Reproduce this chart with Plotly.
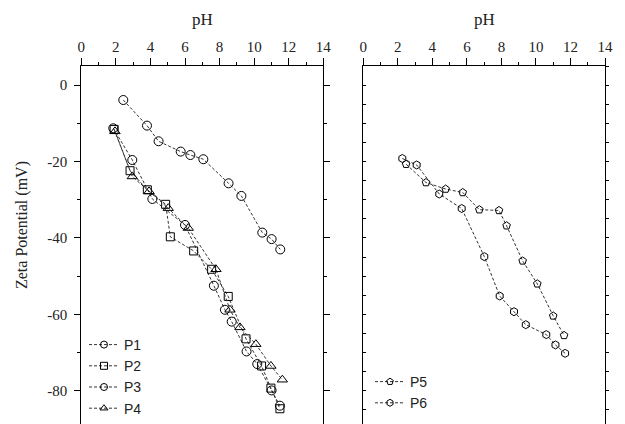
import plotly.graph_objects as go

# ---------------- data ----------------
p1_ph = [1.85, 2.95, 4.11, 6.00, 7.67, 8.31, 8.70, 9.56, 10.18, 11.01, 11.49]
p1_zp = [-11.3, -19.6, -29.8, -36.6, -52.5, -58.8, -61.9, -69.7, -73.0, -79.9, -83.9]

p2_ph = [1.90, 2.82, 3.82, 4.88, 5.15, 6.50, 7.54, 8.50, 9.53, 10.43, 10.97, 11.49]
p2_zp = [-11.6, -22.4, -27.4, -31.2, -39.7, -43.4, -48.2, -55.3, -66.4, -73.5, -79.3, -84.7]

p3_ph = [2.43, 3.80, 4.47, 5.75, 6.31, 7.06, 8.52, 9.26, 10.47, 11.01, 11.51]
p3_zp = [-3.9, -10.6, -14.7, -17.4, -18.3, -19.4, -25.7, -29.0, -38.6, -40.3, -43.0]

p4_ph = [1.95, 2.95, 3.92, 5.03, 6.19, 7.79, 8.60, 9.18, 10.10, 10.97, 11.63]
p4_zp = [-12.1, -23.9, -27.8, -32.2, -37.4, -48.2, -58.8, -63.4, -67.8, -73.5, -77.1]

p5_ph = [2.48, 3.63, 4.77, 5.76, 6.72, 7.86, 8.30, 9.23, 10.08, 11.00, 11.63]
p5_zp = [-20.7, -25.5, -27.2, -28.1, -32.6, -32.8, -36.8, -46.0, -52.0, -60.4, -65.5]

p6_ph = [2.26, 3.09, 4.40, 5.70, 7.01, 7.90, 8.73, 9.41, 10.60, 11.13, 11.69]
p6_zp = [-19.2, -20.9, -28.5, -32.3, -44.9, -55.2, -59.3, -62.7, -65.3, -68.0, -70.2]

x_tick_vals = [0, 2, 4, 6, 8, 10, 12, 14]
y_tick_vals = [0, -20, -40, -60, -80]
y_tick_text = ["0", "-20", "-40", "-60", "-80"]

left_series = [("P1", p1_ph, p1_zp, "circle-open"),
               ("P2", p2_ph, p2_zp, "square-open"),
               ("P3", p3_ph, p3_zp, "circle-open"),
               ("P4", p4_ph, p4_zp, "triangle-up-open")]
right_series = [("P5", p5_ph, p5_zp, "pentagon-open"),
                ("P6", p6_ph, p6_zp, "hexagon-open")]

# ---------------- figure ----------------
W, H = 625, 424
T, B = 66, 0
PH = H - T - B
LINE = "#333333"
SERIF = "'Times New Roman', 'Liberation Serif', 'DejaVu Serif', serif"
SANS = "Arial, 'Liberation Sans', sans-serif"

fig = go.Figure()

msize_left = {"circle-open": 9, "square-open": 8, "triangle-up-open": 9}
for name, xs, ys, sym in left_series:
    fig.add_trace(go.Scatter(
        x=xs, y=ys, mode="lines+markers", xaxis="x", yaxis="y", showlegend=False,
        line=dict(color=LINE, width=1, dash="3px,2px"),
        marker=dict(symbol=sym, size=msize_left[sym], color="black", line=dict(width=1, color="black")),
    ))
    fig.add_trace(go.Scatter(
        x=[None], y=[None], mode="lines+markers", xaxis="x", yaxis="y", name=name, legend="legend",
        line=dict(color=LINE, width=1, dash="3px,2px"),
        marker=dict(symbol=sym, size=7, color="black", line=dict(width=1, color="black")),
    ))

for name, xs, ys, sym in right_series:
    fig.add_trace(go.Scatter(
        x=xs, y=ys, mode="lines+markers", xaxis="x2", yaxis="y2", showlegend=False,
        line=dict(color=LINE, width=1, dash="3px,2px"),
        marker=dict(symbol=sym, size=8, color="black", line=dict(width=1, color="black")),
    ))
    fig.add_trace(go.Scatter(
        x=[None], y=[None], mode="lines+markers", xaxis="x2", yaxis="y2", name=name, legend="legend2",
        line=dict(color=LINE, width=1, dash="3px,2px"),
        marker=dict(symbol=sym, size=7, color="black", line=dict(width=1, color="black")),
    ))

YR = [-88.69, 5.0]
dom1 = [81.3 / W, 323.3 / W]
dom2 = [363.3 / W, 605.0 / W]

xcommon = dict(range=[0, 14], side="top", showline=True, linecolor="black", linewidth=1,
               ticks="outside", ticklen=7, tickcolor="black", tickwidth=1,
               tickmode="array", tickvals=x_tick_vals,
               tickfont=dict(family=SERIF, size=15, color="#222"),
               minor=dict(tickmode="linear", tick0=0, dtick=1, ticklen=3, ticks="outside",
                          tickcolor="black", showgrid=False),
               showgrid=False, zeroline=False, mirror=False, fixedrange=True, automargin=False)

fig.update_layout(
    width=W, height=H,
    margin=dict(l=0, r=0, t=T, b=B),
    paper_bgcolor="white", plot_bgcolor="white",
    xaxis=dict(domain=dom1, anchor="y", **xcommon),
    xaxis2=dict(domain=dom2, anchor="y2", **xcommon),
    yaxis=dict(range=YR, anchor="x", showline=True, linecolor="black", linewidth=1,
               mirror="ticks", ticks="outside", ticklen=6, tickcolor="black",
               tickmode="array", tickvals=y_tick_vals, ticktext=y_tick_text,
               tickfont=dict(family=SERIF, size=15, color="#222"), ticklabelstandoff=4,
               minor=dict(tickmode="linear", tick0=0, dtick=10, ticklen=3, ticks="outside",
                          tickcolor="black", showgrid=False),
               showgrid=False, zeroline=False, fixedrange=True, automargin=False),
    yaxis2=dict(range=YR, anchor="x2", showline=True, linecolor="black", linewidth=1,
                ticks="inside", ticklen=3, tickcolor="black", tickmode="linear", tick0=0, dtick=5,
                showticklabels=False, showgrid=False, zeroline=False, fixedrange=True,
                automargin=False),
    yaxis3=dict(range=YR, anchor="x2", overlaying="y2", side="right", showline=True,
                linecolor="black", linewidth=1, ticks="outside", ticklen=3, tickcolor="black",
                tickmode="linear", tick0=0, dtick=5, showticklabels=False,
                showgrid=False, zeroline=False, fixedrange=True, automargin=False),
    legend=dict(x=84 / W, y=0.0, xanchor="left", yanchor="bottom",
                font=dict(family=SANS, size=14, color="#222"), bgcolor="rgba(0,0,0,0)",
                tracegroupgap=0, borderwidth=0),
    legend2=dict(x=370 / W, y=5 / PH, xanchor="left", yanchor="bottom",
                 font=dict(family=SANS, size=14, color="#222"), bgcolor="rgba(0,0,0,0)",
                 tracegroupgap=0, borderwidth=0),
    showlegend=True,
)

# dummy trace to activate yaxis3
fig.add_trace(go.Scatter(x=[None], y=[None], xaxis="x2", yaxis="y3", showlegend=False, hoverinfo="skip"))

# axis titles
fig.add_annotation(text="pH", xref="paper", yref="paper", x=(dom1[0] + dom1[1]) / 2,
                   y=(H - 20) / PH, xanchor="center", yanchor="middle", showarrow=False,
                   font=dict(family=SERIF, size=17, color="#222"))
fig.add_annotation(text="pH", xref="paper", yref="paper", x=(dom2[0] + dom2[1]) / 2,
                   y=(H - 20) / PH, xanchor="center", yanchor="middle", showarrow=False,
                   font=dict(family=SERIF, size=17, color="#222"))
fig.add_annotation(text="Zeta Potential (mV)", xref="paper", yref="paper", x=22 / W,
                   y=(H - 225) / PH, xanchor="center", yanchor="middle", textangle=-90,
                   showarrow=False, font=dict(family=SERIF, size=16, color="#222"))

fig.write_html("out.html", config={"displayModeBar": False},
               post_script="document.body.style.margin='0';document.body.style.overflow='hidden';")
